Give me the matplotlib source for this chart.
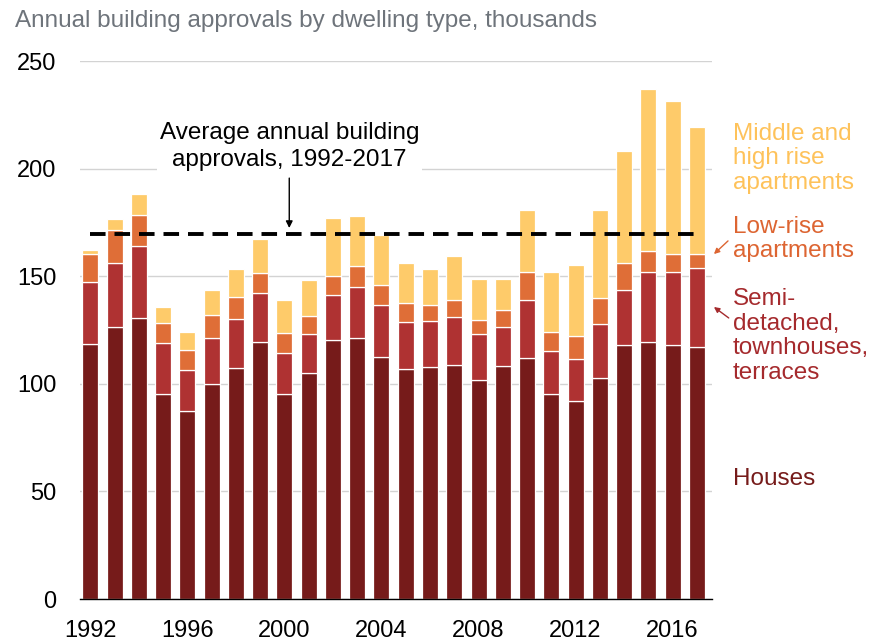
import numpy as np
import matplotlib
matplotlib.use("Agg")
import matplotlib.pyplot as plt

plt.rcParams["font.family"] = ["Liberation Sans", "DejaVu Sans"]

# Data (thousands of approvals)
years = list(range(1992, 2018))
houses = [118.3, 126.2, 130.7, 95.1, 87.4, 99.8, 107.5, 119.4, 95.1, 104.9,
          120.4, 121.4, 112.6, 106.7, 107.8, 108.7, 101.8, 108.3, 111.8, 95.3,
          91.9, 102.6, 118.0, 119.3, 117.9, 117.2]
semi = [28.9, 29.8, 33.5, 23.7, 18.9, 21.3, 22.5, 22.6, 19.4, 18.4,
        20.9, 23.4, 24.0, 22.0, 21.5, 22.2, 21.3, 18.2, 27.3, 20.1,
        19.5, 25.2, 25.7, 32.5, 33.9, 36.5]
low_rise = [13.3, 15.5, 14.2, 9.5, 9.6, 10.9, 10.3, 9.5, 9.1, 8.1,
            8.8, 9.9, 9.3, 8.7, 7.3, 8.0, 6.5, 7.6, 12.7, 8.5,
            10.8, 11.9, 12.3, 9.8, 8.5, 6.6]
high_rise = [1.7, 5.1, 9.6, 7.5, 8.2, 11.6, 13.2, 15.6, 15.5, 17.0,
             26.9, 23.3, 23.1, 18.6, 16.6, 20.3, 19.2, 14.7, 29.0, 28.2,
             33.0, 41.1, 52.2, 75.2, 71.0, 59.0]
average = 169.4
tick_years = [1992, 1996, 2000, 2004, 2008, 2012, 2016]

series = [
    ("Houses", houses, "#761b1a"),
    ("Semi-\ndetached,\ntownhouses,\nterraces", semi, "#af3232"),
    ("Low-rise\napartments", low_rise, "#df6e37"),
    ("Middle and\nhigh rise\napartments", high_rise, "#fecb6a"),
]
label_colours = ["#761b1a", "#a52a2d", "#dd6532", "#fec25a"]

fig = plt.figure(figsize=(8.72, 6.41), dpi=100)
ax = fig.add_axes([0.0917, 0.0655, 0.7248, 0.8393])

# Stacked bars
bottom = np.zeros(len(years))
for name, vals, col in series:
    ax.bar(years, vals, width=0.66, bottom=bottom, color=col,
           edgecolor="white", linewidth=0.9, zorder=2)
    bottom += np.array(vals)

# Average line
ax.plot([years[0], years[-1]], [average, average], color="black", lw=2.8,
        linestyle=(0, (4.0, 2.3)), zorder=3)

ax.set_xlim(1991.575, 2017.62)
ax.set_ylim(0, 250)
ax.set_yticks([0, 50, 100, 150, 200, 250])
ax.set_xticks(tick_years)
ax.grid(axis="y", color="#d3d3d3", lw=1.0, zorder=0)
ax.set_axisbelow(True)
for s in ["top", "right", "left"]:
    ax.spines[s].set_visible(False)
ax.spines["bottom"].set_color("black")
ax.spines["bottom"].set_linewidth(1.0)
ax.tick_params(axis="y", length=0, pad=17, labelsize=17)
ax.tick_params(axis="x", length=0, pad=15, labelsize=17)

# Subtitle (title above is cropped in the original)
fig.text(0.017, 0.967, "Annual building approvals by dwelling type, thousands",
         fontsize=17.5, color="#6e747b", ha="left", va="center")

# Average annotation
ax.text(2000.2, 210.3, "Average annual building\napprovals, 1992-2017",
        fontsize=17.5, ha="center", va="center", linespacing=1.3,
        bbox=dict(facecolor="white", edgecolor="none", pad=2), zorder=4)
ax.annotate("", xy=(2000.2, 172.4), xytext=(2000.2, 195.6),
            arrowprops=dict(arrowstyle="-|>", color="black", lw=1.0,
                            mutation_scale=10, shrinkA=0, shrinkB=0),
            zorder=4)

# Series labels on the right
label_y = [55.8, 122.2, 167.3, 204.9]
for (name, vals, col), lc, ly in zip(series, label_colours, label_y):
    ax.text(2018.48, ly, name, fontsize=17.5, color=lc, ha="left",
            va="center", linespacing=1.15, clip_on=False)

ax.annotate("", xy=(2017.70, 160.3), xytext=(2018.28, 166.4),
            arrowprops=dict(arrowstyle="-|>", color="#dd6532", lw=1.0,
                            mutation_scale=8, shrinkA=0, shrinkB=0),
            annotation_clip=False)
ax.annotate("", xy=(2017.70, 135.7), xytext=(2018.31, 130.6),
            arrowprops=dict(arrowstyle="-|>", color="#a52a2d", lw=1.0,
                            mutation_scale=8, shrinkA=0, shrinkB=0),
            annotation_clip=False)

fig.savefig("out.png", dpi=100)
